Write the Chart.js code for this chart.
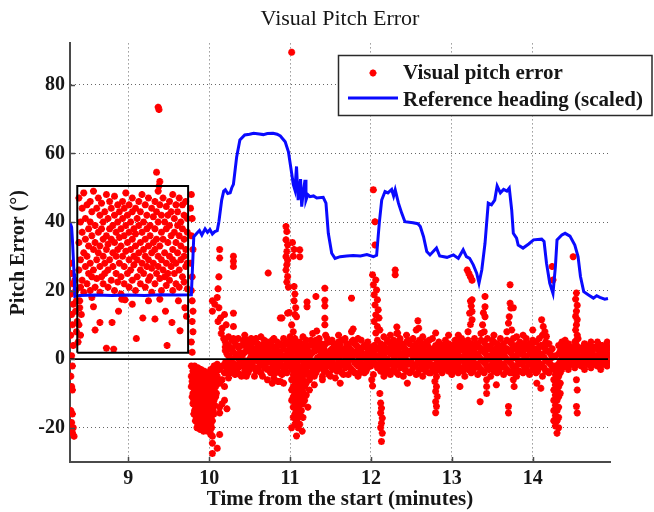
<!DOCTYPE html>
<html><head><meta charset="utf-8">
<script src="https://cdn.jsdelivr.net/npm/chart.js@4/dist/chart.umd.min.js"></script>
<style>html,body{margin:0;padding:0;background:#fff}canvas{display:block}</style>
</head><body>
<canvas id="c" width="654" height="512"></canvas>
<script>
// ---- tick labels ----
const xTicks = [9, 10, 11, 12, 13, 14];
const yTicks = [-20, 0, 20, 40, 60, 80];

// ---- Reference heading (scaled) ----
const headingT = [8.28,8.30,8.31,8.33,8.34,8.40,8.60,8.80,9.00,9.20,9.40,9.60,9.78,9.80,9.81,9.85,9.88,9.91,9.95,9.98,10.01,10.04,10.07,10.10,10.12,10.155,10.18,10.20,10.23,10.26,10.28,10.30,10.34,10.38,10.44,10.50,10.55,10.62,10.67,10.72,10.79,10.84,10.88,10.94,10.98,11.02,11.04,11.06,11.08,11.10,11.13,11.144,11.16,11.185,11.197,11.22,11.247,11.29,11.33,11.41,11.444,11.473,11.515,11.556,11.62,11.70,11.78,11.87,11.95,12.03,12.07,12.103,12.133,12.174,12.21,12.256,12.28,12.30,12.34,12.38,12.42,12.52,12.58,12.61,12.65,12.69,12.73,12.81,12.85,12.94,13.02,13.08,13.14,13.18,13.22,13.265,13.307,13.336,13.37,13.41,13.45,13.49,13.53,13.56,13.60,13.64,13.68,13.71,13.74,13.76,13.80,13.82,13.88,13.95,14.01,14.11,14.14,14.17,14.21,14.25,14.28,14.30,14.36,14.40,14.46,14.52,14.56,14.59,14.63,14.69,14.75,14.79,14.83,14.89,14.93];
const headingV = [39.8,38.5,34.8,25,18.3,18.6,18.7,18.6,18.7,18.6,18.8,18.7,18.8,30,35.7,36.8,37.5,36.2,38,37,37.8,36.5,37.2,37.5,40,46.4,49,49.4,48.3,48.5,50,51,59,63.9,65.4,65.6,65.9,65.7,65.5,65.8,65.9,65.6,65.1,63.4,60.5,54.2,51,49.4,56.2,46.4,52.5,44.5,48,52.3,46.4,48,47.4,47.6,47,47.2,45.5,36.7,30.9,29.4,29.9,30.1,30.2,30.1,30.5,29.9,30.3,39.7,46.4,48.9,48.5,49.5,47.6,49.4,45.5,42.6,40.1,39.8,39.5,38.7,35.7,31.4,30.4,32.4,30.1,29.7,30.4,29.4,31.9,29.9,29.4,27.5,25.1,22.2,26.0,33.8,45.5,45,46.4,50.5,48.5,49.5,49,49.9,43.5,36.7,35.3,33.3,32.4,33.6,34.8,35,34.3,28,22.2,19.2,27,34.8,36.2,36.7,35.9,33.3,29.9,24.1,19.7,18.7,17.8,18.5,18,17.5,17.7];

// ---- Visual pitch error, columns: [time, err1, err2, ...] ----
const boxCloud = [
[8.39,47,34,26],[8.41,40,29,21],[8.43,44,37,23],[8.45,48.5,31,19.5],[8.47,41,35,27],[8.49,45,30,22],
[8.51,38,33,25],[8.53,46,40,28,20],[8.55,43,36,24],[8.57,49,32,26],[8.59,39,34,21],[8.61,44,29,23.5],
[8.63,47,37,31],[8.65,42,33,27,19.5],[8.67,45.5,38,24],[8.69,40,35,30,22],[8.71,43,28,25],[8.73,48,36,32],
[8.75,41,33.5,26,21],[8.77,46,38,29],[8.79,44,35,23],[8.81,39,31,27],[8.83,47.5,42,34,20],[8.85,37,30,25],
[8.87,45,40,32,22.5],[8.89,43,35.5,28],[8.91,38,33,24,19],[8.93,46,41,30],[8.95,44,36,27,22],[8.97,48.5,39,31.5],
[8.99,42,34,25],[9.01,45,37,29,21],[9.03,40,32,26],[9.05,47,43,35,23],[9.07,38,30,27.5],[9.09,44,36.5,33,20],
[9.11,41,29,24],[9.13,46,39,31],[9.15,43,34,26,22],[9.17,48,37,28],[9.19,40,32,25],[9.21,45,35,30,21],
[9.23,42,38,27],[9.25,47,33,29,23],[9.27,39,36,24],[9.29,44,31,26.5,19.5],[9.31,41.5,34,28],[9.33,46,38,32,22],
[9.35,43,35,25],[9.37,49,40,30,27],[9.39,45,33,23.5],[9.41,42,37,29,20],[9.43,47,35,26],[9.45,40,31,24],
[9.47,44.5,38,28,21.5],[9.49,42,34,25],[9.51,46,39,30,23],[9.53,43,36,27],[9.55,48,32,29,20],[9.57,41,37,25],
[9.59,45,34,28,22],[9.61,43,39,31],[9.63,47,36,26,21],[9.65,40,33,29],[9.67,45,38,24],[9.69,42,35,30,22.5],
[9.71,46,32,27],[9.73,41,37,28,20.5]
];
const boxLow = [
[8.40,17,15],[8.42,13],[8.39,10],[8.41,7],[8.55,18],[8.57,15.3],[8.59,8.5],[8.65,10.7],[8.73,3.2],[8.80,10.7],
[8.82,2.9],[8.92,17.5],[8.96,17.3],[9.05,16],[9.18,12],[9.25,17],[9.33,11.7],[9.39,17.5],[9.46,14],[9.54,10.7],
[9.62,17],[9.64,8.3],[9.70,15],[9.72,12.5],[9.10,6],[8.88,14],[9.48,4]
];
const boxRightEdge = [
[9.78,48,36,20,5],[9.77,44,28],[9.79,41,24,17,11,2],[9.80,32,14,8]
];
const leftEdge = [
[8.29,28,19,7,-5,-15],[8.30,25,13,1,-8,-18.5],[8.31,22,10,-2,-9,-16,-21.5],[8.32,16,4,-20],[8.33,-22.5],
[8.34,23],[8.35,20,14],[8.36,17,8],[8.37,11],[8.38,5]
];
const outliers = [[9.35,54.5],[9.39,51.8],[9.38,50.5],[9.37,73.5],[9.38,72.8],[11.02,89.5]];
const dip10 = [
[9.78,-2,-5,-8],[9.80,-3.5,-7,-10,-13],[9.82,-2,-5.5,-9,-12,-15],[9.84,-4,-7.5,-11,-14,-17],
[9.86,-2.5,-6,-9.5,-13,-16,-19],[9.88,-4,-8,-11.5,-15,-18],[9.90,-3,-6.5,-10,-13.5,-17,-19.5],
[9.92,-5,-8.5,-12,-15.5,-18.5],[9.94,-3.5,-7,-10.5,-14,-17,-20],[9.96,-5.5,-9,-12.5,-16,-19],
[9.98,-4,-7.5,-11,-14.5,-18,-21],[10.00,-6,-9.5,-13,-16.5,-20],[10.02,-3,-8,-11.5,-15,-19,-22],
[10.04,-5,-10,-14,-18,-22.5,-24.5,-27.5],[10.06,-2,-6.5,-12,-16],[10.08,-4,-8,-11],[10.10,-1.5,-5,-26],
[10.13,-3,-7,-14,-15.7,-22],[10.16,-2,-6,-13],[10.19,-4,-8,-12],[10.22,-3,-14.5],
[9.79,-6.5,-11],[9.81,-8.5,-12,-16],[9.83,-3.5,-10,-13.5,-18],[9.85,-5.5,-8.5,-12.5,-15.5,-20],
[9.87,-3.5,-7,-10.5,-14,-17.5],[9.89,-5.5,-9.5,-13,-16.5,-20.5],[9.91,-4.5,-8,-11.5,-15,-18],
[9.93,-6.5,-10,-13.5,-17,-21],[9.95,-5,-8.5,-12,-15.5,-18.5],[9.97,-7,-10.5,-14,-17.5,-20.5],
[9.99,-5.5,-9,-12.5,-16,-19.5],[10.01,-4.5,-7.5,-11,-14.5,-18,-21],[10.03,-6.5,-9.5,-13,-16.5,-20],
[10.05,-3.5,-8,-12,-15],[10.07,-5,-9.5,-13.5],[10.09,-3,-6.5,-10]
];
const rise10 = [
[10.10,18],[10.12,15,24],[10.14,12],[10.16,9],[10.18,6],[10.20,3.6],[10.07,16],[10.11,11,20.5],[10.15,7.5],
[10.19,13],[10.21,10],[10.13,32,29.5],[10.30,30,28.5,27,13.4,9.5],[10.04,17,14],[10.73,25.1]
];
const spike11 = [
[10.95,38.7,34.8,29.9,26],[10.96,37.2,31.4,27.5,22.5],[10.97,33.3,28.9,24.1,13.4],[10.98,21],[10.99,13.6],
[11.03,34],[11.05,32,21.2,17],[11.04,30,8],[11.12,31.9,29.9],[11.06,19,13,6],[11.07,15],[11.08,12.4],
[10.90,12],[11.02,10],[10.88,12],
[11.02,-3,-6,-9,-12,-20],[11.04,-4.5,-8,-11,-14,-17],[11.06,-3,-6.5,-10,-13,-16,-19],
[11.08,-5,-8.5,-12,-15,-18,-22.4],[11.10,-3.5,-7,-10.5,-14,-17,-20],[11.12,-5.5,-9,-12.5,-16,-19],
[11.14,-4,-7.5,-11,-15],[11.15,-21],[11.16,-6,-9.5,-13,-17],[11.18,-4.5,-8,-12],[11.20,-7,-10.5],
[11.22,-14],[11.24,-6,-9]
];
const sparseMid = [
[11.21,15.3,16.7],[11.32,18.3],[11.43,20.7,17.2,15.5,11.9,10],[11.33,8.2],[11.76,17.8],[11.78,8.8],
[12.30,26,24.6],[12.32,9.4],[12.33,7.6],[12.58,11.2],[12.59,9],[12.80,7.6]
];
const spike12 = [
[12.03,49.4,21.7,-4.5],[12.05,40.1,33.3,15.8],[12.02,24.6,-7.8],[12.06,23.1,12.9,7.6],[12.07,20.2],
[12.04,18.8,11],[12.08,17.3,9.5],[12.09,14.4],[12.10,12],[12.11,8.5,-10],[12.01,-6],
[12.12,-12.8,-15.7,-20],[12.13,-14.3,-18.7,-24],[12.14,-17.2,-21.6]
];
const spikesLate = [
[12.80,-3.6,-9.4,-12.4,-15.6],[12.81,-5.1,-8,-13.8],[12.79,-6.5],[12.82,-10.9],
[13.19,26],[13.21,25],[13.23,24,16.9,10.1],[13.25,23,17.3,13.9,11.5],[13.24,15.5],[13.22,13.4],[13.35,-12.4],
[13.41,18.3,15.3,12.4],[13.39,13.5],[13.38,10],[13.40,8],[13.43,-6,-8,-10],
[13.72,21.7,16.3],[13.73,14.9],[13.71,12.4],[13.76,15,-4,-6],[13.70,10.5,-13.8,-15.7],[13.74,8.5],[13.77,-8],
[14.11,11.5],[14.13,9.5],[14.15,8],[14.17,6.6],[14.24,27],[14.25,23.1],
[14.26,-3,-6,-9,-12,-15,-18],[14.28,-4.5,-7.5,-10.5,-13.5,-16.5,-19.5],[14.30,-3,-6,-9,-12,-15,-18,-21.6],
[14.32,-5,-8,-11,-14,-17,-20],[14.34,-4,-7,-10],
[14.50,29.9],[14.54,19.3,14,10,5.5,-6,-13.8],[14.53,17.5,12.5,8.5],[14.55,15.7,11.5,7,-15.7,-9]
];
const hanging = [
[10.78,-7],[10.85,-6.5],[10.92,-7],[11.30,-7.5],[11.40,-6],[11.62,-7],[12.45,-7],[13.10,-8],[13.55,-7.5],[14.05,-7],[14.10,-8.5]
];
const band = [
[10.20,-4,-1,2.5,5],[10.24,-5.5,-2,1,4,6.5],[10.28,-3,0,3,5.5],[10.32,-4.5,-1.5,1.5,4.5],[10.36,-2.5,0.5,3.5,6],
[10.40,-5,-2,1,4],[10.44,-3.5,-0.5,2,5,7],[10.48,-4,-1,2.5,5.5],[10.52,-2,1,3.5,6],[10.56,-5,-2.5,0,3,5],
[10.60,-3,-0.5,2,4.5],[10.64,-4,-1.5,1.5,4,6.5],[10.68,-2.5,0.5,3,5.5],[10.72,-6,-3,0,2.5,5],[10.76,-4,-1,2,4.5],
[10.80,-5.5,-2,1,3.5,6],[10.84,-3,0,2.5,5],[10.88,-6.5,-4,-1,2,4.5],[10.92,-2.5,0.5,3,6],[10.96,-4,-1,1.5,4.5],
[11.00,-1.5,1,3.5,6.5],[11.04,-2,0.5,3,5.5],[11.08,-1,2,4.5],[11.12,-3,0,2.5,5],[11.16,-4.5,-1.5,1.5,4,6.5],
[11.20,-3,0,3,5.5],[11.24,-5,-2,1,4],[11.28,-3.5,-0.5,2,5,7.5],[11.32,-4,-1,2.5,5.5],[11.36,-2.5,0.5,3.5,6],
[11.40,-5,-2,1,4],[11.44,-3.5,-0.5,2,4.5,7],[11.48,-4.5,-1.5,1.5,5],[11.52,-3,0,3,5.5],[11.56,-5.5,-2,1,3.5],
[11.60,-3,-0.5,2,5,7],[11.64,-4,-1,2.5,5.5],[11.68,-2.5,0.5,3,6],[11.72,-4.5,-1.5,1.5,4],[11.76,-3,0,2.5,5,8],
[11.80,-4,-1,2,4.5],[11.84,-5,-2,1,3.5,6],[11.88,-3,0,3,5.5],[11.92,-4,-1.5,1.5,4],[11.96,-2.5,0.5,3,5],
[12.00,-2,1,3.5],[12.04,-1,1.5,4],[12.08,-2.5,0.5,3,5.5],[12.12,-3.5,-0.5,2,4.5],[12.16,-5,-2,1,4,6.5],
[12.20,-3,0,3,5.5],[12.24,-4.5,-1.5,1.5,4.5,7],[12.28,-3,0,2.5,5.5],[12.32,-4,-1,2,5,7.5],[12.36,-2.5,0.5,3.5,6],
[12.40,-5,-2,1,4],[12.44,-3.5,-0.5,2.5,5,7],[12.48,-4,-1,2,4.5],[12.52,-2.5,0.5,3,6],[12.56,-4.5,-1.5,1.5,4.5,8.5],
[12.60,-3,0,3,5.5],[12.64,-5,-2,1,4,6.5],[12.68,-3.5,-0.5,2,5],[12.72,-4,-1,2.5,5.5],[12.76,-2.5,0.5,3,6],
[12.80,-1.5,1,4],[12.84,-3,0,2.5,5],[12.88,-4,-1,1.5,4],[12.92,-2.5,0.5,3,5.5],[12.96,-3.5,-1,2,4.5,7],
[13.00,-4.5,-1.5,1.5,4],[13.04,-3,0,3,5.5],[13.08,-4,-1,2,5,7],[13.12,-2.5,0.5,3.5,6],[13.16,-5,-2,1,4],
[13.20,-3,0,2.5,5.5,8],[13.24,-4,-1,2,4.5],[13.28,-2.5,0.5,3,6],[13.32,-4.5,-1.5,1.5,4.5],[13.36,-3,0,3,5.5,7.5],
[13.40,-4,-1,2,5],[13.44,-2.5,0.5,3.5,6],[13.48,-5,-2,1,4],[13.52,-3.5,-0.5,2.5,5,7],[13.56,-4,-1,2,4.5],
[13.60,-2.5,0.5,3,6],[13.64,-4.5,-1.5,1.5,4.5],[13.68,-3,0,3,5.5,8],[13.72,-4,-1,2,5],[13.76,-2.5,0.5,3.5,6],
[13.80,-5,-2,1,4,6.5],[13.84,-3.5,-0.5,2.5,5],[13.88,-4,-1,2,4.5,7],[13.92,-2.5,0.5,3,6],[13.96,-4.5,-1.5,1.5,4.5],
[14.00,-3,0,3,5.5,8.5],[14.04,-4,-1,2,5],[14.08,-2.5,0.5,3.5,6],[14.12,-5,-2,1,4,7],[14.16,-3.5,-0.5,2.5,5],
[14.20,-4,-1,2,4.5],[14.24,-2.5,0.5,3],[14.28,-2,1],[14.32,-1.5,1.5,4],[14.36,-3,0,2.5,5],
[14.40,-2,0.5,3,5.5],[14.44,-3,-0.5,2,4.5],[14.48,-1.5,1,3.5],[14.52,-2.5,0,2.5,5],[14.56,-1.5,1,3.5,6],
[14.60,-2,0.5,3],[14.64,-3,-0.5,2,4.5],[14.68,-1.5,1,3.5],[14.72,-2.5,0,2.5,5],[14.76,-1.5,1,3.5],
[14.80,-2,0.5,3,5],[14.84,-3,-0.5,2,4],[14.88,-1.5,1,3.5],[14.92,-2,0.5,3,5]
];
const bandFill = [
[10.22,-2.5,1.5,4],[10.26,-4,-0.5,3],[10.30,-1.5,2,6],[10.34,-3,0.5,4],[10.38,-4.5,-1,2],[10.42,-2,1.5,5.5],
[10.46,-5,-2,3.5],[10.50,-3,0,4.5],[10.54,-1,2,5],[10.58,-3.5,1,6],[10.62,-2,0.5,3.5],[10.66,-5,-0.5,2.5],
[10.70,-1.5,1.5,4.5],[10.74,-3,0.5,3.5],[10.78,-2.5,0,5.5],[10.82,-4,-0.5,2.5],[10.86,-1.5,1.5,4],[10.90,-4.5,-2,1],
[10.94,-3,0,4.5],[10.98,-2,2.5,5],[11.02,-0.5,2,4.5],[11.06,0,3.5],[11.10,-2,1,3.5],[11.14,-3,0,3],
[11.18,-1.5,1,4.5],[11.22,-4,-0.5,2.5],[11.26,-2,1.5,5.5],[11.30,-5,-2,3.5],[11.34,-3,0.5,4],[11.38,-1,2,4.5],
[11.42,-3.5,0,3],[11.46,-2,0.5,6],[11.50,-5,-1,2.5],[11.54,-1.5,1.5,4.5],[11.58,-3.5,0.5,3],[11.62,-2,1,4],
[11.66,-4.5,-1.5,2],[11.70,-1,1.5,4.5],[11.74,-2.5,0.5,3],[11.78,-3.5,1,5.5],[11.82,-1.5,2,4],[11.86,-4,-1,2],
[11.90,-2,1,3.5],[11.94,-3.5,0,4],[11.98,-1,2],[12.02,0,2.5],[12.06,-1.5,1,3.5],[12.10,-2,0.5],
[12.14,-2.5,1,3],[12.18,-4,-1,2.5],[12.22,-1.5,2,5],[12.26,-3.5,-0.5,3.5],[12.30,-2,1,4],[12.34,-4.5,-1.5,2.5],
[12.38,-1,1.5,4.5],[12.42,-3,0.5,3],[12.46,-1.5,1.5,5.5],[12.50,-3.5,-1,2.5],[12.54,-2,1,4],[12.58,-4,0,3],
[12.62,-1.5,1.5,4.5],[12.66,-3,-1,2.5],[12.70,-2,0.5,4],[12.74,-4,-1.5,1.5],[12.78,-2,0.5,2.5],[12.82,-1,2],
[12.86,-2,1,3.5],[12.90,-3,0,2.5],[12.94,-1.5,1.5,4],[12.98,-2.5,0.5,3],[13.02,-3.5,-0.5,2.5],[13.06,-1.5,1.5,4],
[13.10,-2.5,0.5,3.5],[13.14,-3.5,-0.5,2.5,5],[13.18,-1.5,1.5,4],[13.22,-2.5,0.5,3.5],[13.26,-3.5,-0.5,2.5],[13.30,-1.5,1.5,4.5],
[13.34,-2.5,0.5,3.5],[13.38,-3.5,-0.5,2.5],[13.42,-1.5,1.5,4],[13.46,-3,0,3],[13.50,-1.5,1.5,5.5],[13.54,-2.5,0.5,3],
[13.58,-3.5,-0.5,2.5],[13.62,-1.5,1.5,4],[13.66,-2.5,0.5,3],[13.70,-3.5,-0.5,2.5],[13.74,-1.5,1.5,4.5],[13.78,-2.5,0.5,3],
[13.82,-3.5,-0.5,2],[13.86,-1.5,1.5,3.5],[13.90,-2.5,0.5,4.5],[13.94,-3.5,-0.5,3],[13.98,-1.5,1.5,4],[14.02,-2.5,0.5,3],
[14.06,-3.5,-0.5,2.5],[14.10,-1.5,1.5,4],[14.14,-2.5,0.5,3.5],[14.18,-3.5,-0.5,2.5],[14.22,-1.5,1.5],[14.34,-0.5,2.5],
[14.38,-1.5,1.5,4],[14.42,-0.5,2.5],[14.46,-1.5,1,3.5],[14.50,-0.5,2],[14.54,-1.5,1.5,4],[14.58,-0.5,2.5],
[14.62,-1.5,1,3.5],[14.66,-0.5,2.5],[14.70,-1.5,1.5,4],[14.74,-0.5,2.5],[14.78,-1.5,1,3.5],[14.82,-0.5,2.5],
[14.86,-1.5,1.5,4],[14.90,-0.5,2.5],[14.94,-1,1.5,3.5]
];

// ---- annotation: highlighted window and zero line ----
const windowT = [8.37, 9.74, 9.74, 8.37, 8.37];
const windowE = [1.9, 1.9, 50.5, 50.5, 1.9];
const zeroT = [8.28, 14.93];
const zeroE = [0, 0];

// ---- build datasets ----
function flatten(groups) {
  const out = [];
  groups.forEach(g => g.forEach(col => { for (let i = 1; i < col.length; i++) out.push({x: col[0], y: col[i]}); }));
  return out;
}
const errPts = flatten([boxCloud, boxLow, boxRightEdge, leftEdge, outliers, dip10, rise10, spike11, sparseMid, spike12, spikesLate, hanging, band, bandFill]);
const heading = headingT.map((t, i) => ({x: t, y: headingV[i]}));
const windowPts = windowT.map((t, i) => ({x: t, y: windowE[i]}));
const zeroPts = zeroT.map((t, i) => ({x: t, y: zeroE[i]}));

const FONT = "'Liberation Serif', 'Times New Roman', serif";
const TXT = '#161616';

const decor = {
  id: 'decor',
  afterDraw(chart) {
    const {ctx, chartArea: a, scales: {x, y}} = chart;
    ctx.save();
    // title centred over the plot area
    ctx.fillStyle = TXT; ctx.font = "22px " + FONT; ctx.textAlign = 'center'; ctx.textBaseline = 'middle';
    ctx.fillText('Visual Pitch Error', (a.left + a.right) / 2, 19);
    ctx.strokeStyle = '#4a4a4a'; ctx.lineWidth = 1.5;
    xTicks.forEach(v => { const p = Math.round(x.getPixelForValue(v)) + 0.5; ctx.beginPath(); ctx.moveTo(p, a.bottom); ctx.lineTo(p, a.bottom - 5); ctx.stroke(); });
    yTicks.forEach(v => { const p = Math.round(y.getPixelForValue(v)) + 0.5; ctx.beginPath(); ctx.moveTo(a.left, p); ctx.lineTo(a.left + 5, p); ctx.stroke(); });
    // legend box
    const L = 338.5, T = 55.5, R = 652, B = 115.5;
    ctx.fillStyle = '#fff'; ctx.fillRect(L, T, R - L, B - T);
    ctx.strokeStyle = '#2a2a2a'; ctx.lineWidth = 1.5; ctx.strokeRect(L, T, R - L, B - T);
    const mx = 373, my = 73, r = 3.5;
    ctx.strokeStyle = '#ff0000'; ctx.lineWidth = 2.2; ctx.beginPath();
    ctx.moveTo(mx - r, my); ctx.lineTo(mx + r, my); ctx.moveTo(mx, my - r); ctx.lineTo(mx, my + r);
    const d = r * 0.7071;
    ctx.moveTo(mx - d, my - d); ctx.lineTo(mx + d, my + d); ctx.moveTo(mx - d, my + d); ctx.lineTo(mx + d, my - d);
    ctx.stroke();
    ctx.strokeStyle = '#0a0aff'; ctx.lineWidth = 3; ctx.beginPath(); ctx.moveTo(348, 98); ctx.lineTo(398, 98); ctx.stroke();
    ctx.fillStyle = TXT; ctx.font = "bold 21px " + FONT; ctx.textBaseline = 'alphabetic'; ctx.textAlign = 'left';
    ctx.fillText('Visual pitch error', 403, 79);
    ctx.fillText('Reference heading (scaled)', 403, 106);
    ctx.restore();
  }
};

new Chart(document.getElementById('c'), {
  type: 'scatter',
  data: { datasets: [
    { label: 'zero', data: zeroPts, showLine: true, borderColor: '#000', borderWidth: 1.6, pointRadius: 0, pointHoverRadius: 0, order: 0 },
    { label: 'window', data: windowPts, showLine: true, borderColor: '#000', borderWidth: 2, pointRadius: 0, pointHoverRadius: 0, order: 1 },
    { label: 'Reference heading (scaled)', data: heading, showLine: true, borderColor: '#0a0aff', borderWidth: 3, pointRadius: 0, pointHoverRadius: 0, order: 2 },
    { label: 'Visual pitch error', data: errPts, showLine: false, pointStyle: 'star', pointRadius: 3.5, pointBorderColor: '#ff0000', pointBackgroundColor: '#ff0000', pointBorderWidth: 2.2, order: 3 }
  ]},
  options: {
    responsive: false, animation: false, devicePixelRatio: 1,
    layout: { padding: { left: 0, right: 44, top: 43.4, bottom: 0 } },
    plugins: { legend: { display: false }, tooltip: { enabled: false }, title: { display: false } },
    scales: {
      x: {
        type: 'linear', min: 8.28, max: 14.955,
        afterBuildTicks: s => { s.ticks = xTicks.map(v => ({ value: v })); },
        afterFit: s => { s.height = 50; },
        grid: { color: '#666', lineWidth: 1, drawTicks: false },
        border: { display: true, color: '#4a4a4a', width: 2, dash: [1, 3] },
        ticks: { padding: 5, color: TXT, font: { family: FONT, size: 20, weight: 'bold' }, maxRotation: 0, autoSkip: false, callback: v => String(v) },
        title: { display: true, text: 'Time from the start (minutes)', color: TXT, font: { family: FONT, size: 21, weight: 'bold' }, padding: { top: 0, bottom: 0 } }
      },
      y: {
        type: 'linear', min: -30, max: 92.1,
        afterBuildTicks: s => { s.ticks = yTicks.map(v => ({ value: v })); },
        afterFit: s => { s.width = 70; },
        grid: { color: '#666', lineWidth: 1, drawTicks: false },
        border: { display: true, color: '#4a4a4a', width: 2, dash: [1, 3] },
        ticks: { padding: 5, color: TXT, font: { family: FONT, size: 20, weight: 'bold' }, callback: v => String(v) },
        title: { display: true, text: 'Pitch Error (°)', color: TXT, font: { family: FONT, size: 20, weight: 'bold' }, padding: { top: 7, bottom: 0 } }
      }
    }
  },
  plugins: [decor]
});
</script>
</body></html>
